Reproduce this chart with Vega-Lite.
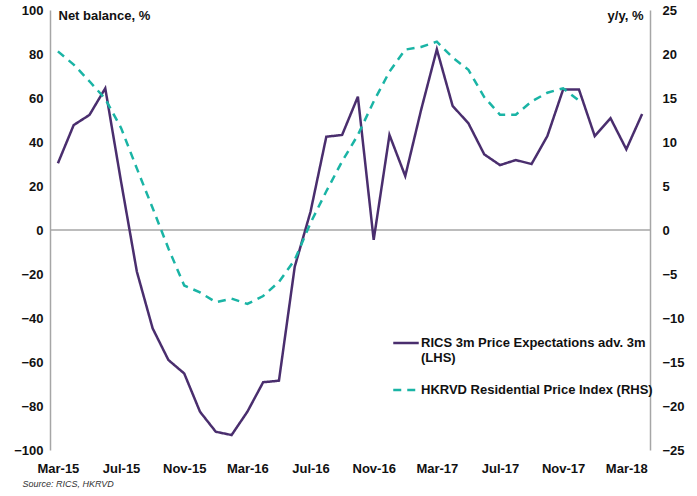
{
  "$schema": "https://vega.github.io/schema/vega-lite/v6.json",
  "autosize": "none",
  "width": 600,
  "height": 440,
  "padding": {"left": 50, "top": 10, "right": 47, "bottom": 46},
  "background": "white",
  "config": {
    "view": {"stroke": null},
    "font": "Liberation Sans",
    "axis": {"labelFont": "Liberation Sans", "labelFontWeight": "bold", "labelFontSize": 13, "labelColor": "#111111", "titleFont": "Liberation Sans"}
  },
  "datasets": {
    "rics": [
      {"month": "Mar-15", "value": 30.3}, {"month": "Apr-15", "value": 47.7}, {"month": "May-15", "value": 52.3}, {"month": "Jun-15", "value": 64.4},
      {"month": "Jul-15", "value": 22.0}, {"month": "Aug-15", "value": -18.9}, {"month": "Sep-15", "value": -44.7}, {"month": "Oct-15", "value": -59.1},
      {"month": "Nov-15", "value": -65.2}, {"month": "Dec-15", "value": -82.6}, {"month": "Jan-16", "value": -91.7}, {"month": "Feb-16", "value": -93.2},
      {"month": "Mar-16", "value": -82.6}, {"month": "Apr-16", "value": -69.2}, {"month": "May-16", "value": -68.5}, {"month": "Jun-16", "value": -16.7},
      {"month": "Jul-16", "value": 8.3}, {"month": "Aug-16", "value": 42.4}, {"month": "Sep-16", "value": 43.2}, {"month": "Oct-16", "value": 60.6},
      {"month": "Nov-16", "value": -4.5}, {"month": "Dec-16", "value": 43.2}, {"month": "Jan-17", "value": 24.5}, {"month": "Feb-17", "value": 54.5},
      {"month": "Mar-17", "value": 82.1}, {"month": "Apr-17", "value": 56.4}, {"month": "May-17", "value": 48.5}, {"month": "Jun-17", "value": 34.4},
      {"month": "Jul-17", "value": 29.5}, {"month": "Aug-17", "value": 31.8}, {"month": "Sep-17", "value": 30.0}, {"month": "Oct-17", "value": 42.7},
      {"month": "Nov-17", "value": 63.9}, {"month": "Dec-17", "value": 63.9}, {"month": "Jan-18", "value": 42.7}, {"month": "Feb-18", "value": 50.8},
      {"month": "Mar-18", "value": 36.7}, {"month": "Apr-18", "value": 52.7}
    ],
    "hkrvd": [
      {"month": "Mar-15", "value": 20.3}, {"month": "Apr-15", "value": 18.8}, {"month": "May-15", "value": 16.9}, {"month": "Jun-15", "value": 14.9},
      {"month": "Jul-15", "value": 11.6}, {"month": "Aug-15", "value": 7.0}, {"month": "Sep-15", "value": 2.5}, {"month": "Oct-15", "value": -2.1},
      {"month": "Nov-15", "value": -6.3}, {"month": "Dec-15", "value": -7.1}, {"month": "Jan-16", "value": -8.2}, {"month": "Feb-16", "value": -7.8},
      {"month": "Mar-16", "value": -8.4}, {"month": "Apr-16", "value": -7.5}, {"month": "May-16", "value": -5.9}, {"month": "Jun-16", "value": -3.4},
      {"month": "Jul-16", "value": 0.8}, {"month": "Aug-16", "value": 4.4}, {"month": "Sep-16", "value": 7.8}, {"month": "Oct-16", "value": 10.8},
      {"month": "Nov-16", "value": 14.6}, {"month": "Dec-16", "value": 18.0}, {"month": "Jan-17", "value": 20.5}, {"month": "Feb-17", "value": 20.8},
      {"month": "Mar-17", "value": 21.4}, {"month": "Apr-17", "value": 19.6}, {"month": "May-17", "value": 18.2}, {"month": "Jun-17", "value": 15.1},
      {"month": "Jul-17", "value": 13.1}, {"month": "Aug-17", "value": 13.1}, {"month": "Sep-17", "value": 14.6}, {"month": "Oct-17", "value": 15.6},
      {"month": "Nov-17", "value": 16.1}, {"month": "Dec-17", "value": 14.7}
    ]
  },
  "layer": [
    {
      "layer": [
        {
          "data": {"values": [{"value": 0}]},
          "mark": {"type": "rule", "color": "#a6a6a6", "strokeWidth": 1.5},
          "encoding": {
            "y": {
              "field": "value", "type": "quantitative",
              "scale": {"domain": [-100, 100], "nice": false},
              "axis": {
                "values": [-100,-80,-60,-40,-20,0,20,40,60,80,100], "grid": false, "ticks": false,
                "domainColor": "#a6a6a6", "domainWidth": 1.5, "labelPadding": 7,
                "title": "Net balance, %", "titleAngle": 0, "titleAlign": "left", "titleBaseline": "middle", "titleAnchor": null,
                "titleX": 8, "titleY": 5, "titleFontSize": 13, "titleFontWeight": "bold", "titleColor": "#111111"
              }
            }
          }
        },
        {
          "data": {"name": "rics"},
          "transform": [{"calculate": "'RICS 3m Price Expectations adv. 3m (LHS)'", "as": "series"}],
          "mark": {"type": "line", "strokeWidth": 2.5, "strokeJoin": "miter"},
          "encoding": {
            "x": {
              "field": "month", "type": "ordinal",
              "scale": {"type": "point", "padding": 0.5, "domain": ["Mar-15","Apr-15","May-15","Jun-15","Jul-15","Aug-15","Sep-15","Oct-15","Nov-15","Dec-15","Jan-16","Feb-16","Mar-16","Apr-16","May-16","Jun-16","Jul-16","Aug-16","Sep-16","Oct-16","Nov-16","Dec-16","Jan-17","Feb-17","Mar-17","Apr-17","May-17","Jun-17","Jul-17","Aug-17","Sep-17","Oct-17","Nov-17","Dec-17","Jan-18","Feb-18","Mar-18","Apr-18"]},
              "axis": {
                "values": ["Mar-15","Jul-15","Nov-15","Mar-16","Jul-16","Nov-16","Mar-17","Jul-17","Nov-17","Mar-18"],
                "domain": false, "ticks": false, "labelAngle": 0, "labelPadding": 18, "labelBaseline": "middle",
                "title": "Source: RICS, HKRVD", "titleFontStyle": "italic", "titleFontWeight": "normal", "titleFontSize": 9, "titleColor": "#333333",
                "titleAnchor": null, "titleAlign": "left", "titleX": -28, "titleY": 33, "titleBaseline": "middle"
              }
            },
            "y": {
              "field": "value", "type": "quantitative",
              "scale": {"domain": [-100, 100], "nice": false},
              "axis": {
                "values": [-100,-80,-60,-40,-20,0,20,40,60,80,100], "grid": false, "ticks": false,
                "domainColor": "#a6a6a6", "domainWidth": 1.5, "labelPadding": 7,
                "title": "Net balance, %", "titleAngle": 0, "titleAlign": "left", "titleBaseline": "middle", "titleAnchor": null,
                "titleX": 8, "titleY": 5, "titleFontSize": 13, "titleFontWeight": "bold", "titleColor": "#111111"
              }
            },
            "color": {
              "field": "series", "type": "nominal",
              "scale": {"domain": ["RICS 3m Price Expectations adv. 3m (LHS)", "HKRVD Residential Price Index (RHS)"], "range": ["#4a2e6e", "#1ab4a5"]},
              "legend": {
                "orient": "none", "legendX": 342, "legendY": 319, "title": null,
                "symbolType": "stroke", "symbolSize": 650, "symbolStrokeWidth": 2.5,
                "labelFont": "Liberation Sans", "labelFontSize": 13, "labelFontWeight": "bold", "labelColor": "#111111",
                "labelLimit": 400, "labelOffset": 1, "rowPadding": 11,
                "labelExpr": "datum.label == 'RICS 3m Price Expectations adv. 3m (LHS)' ? ['RICS 3m Price Expectations adv. 3m', '(LHS)'] : datum.label"
              }
            },
            "strokeDash": {
              "field": "series", "type": "nominal",
              "scale": {"domain": ["RICS 3m Price Expectations adv. 3m (LHS)", "HKRVD Residential Price Index (RHS)"], "range": [[1, 0], [8, 6]]},
              "legend": null
            }
          }
        }
      ]
    },
    {
      "data": {"name": "hkrvd"},
      "transform": [{"calculate": "'HKRVD Residential Price Index (RHS)'", "as": "series"}],
      "mark": {"type": "line", "strokeWidth": 2.5},
      "encoding": {
        "x": {"field": "month", "type": "ordinal"},
        "y": {
          "field": "value", "type": "quantitative",
          "scale": {"domain": [-25, 25], "nice": false},
          "axis": {
            "orient": "right", "values": [-25,-20,-15,-10,-5,0,5,10,15,20,25], "grid": false, "ticks": false,
            "domainColor": "#a6a6a6", "domainWidth": 1.5, "labelPadding": 12,
            "title": "y/y,  %", "titleAngle": 0, "titleAlign": "right", "titleBaseline": "middle", "titleAnchor": null,
            "titleX": -7, "titleY": 5, "titleFontSize": 13, "titleFontWeight": "bold", "titleColor": "#111111"
          }
        },
        "color": {"field": "series", "type": "nominal"},
        "strokeDash": {"field": "series", "type": "nominal"}
      }
    }
  ],
  "resolve": {"scale": {"y": "independent"}}
}
